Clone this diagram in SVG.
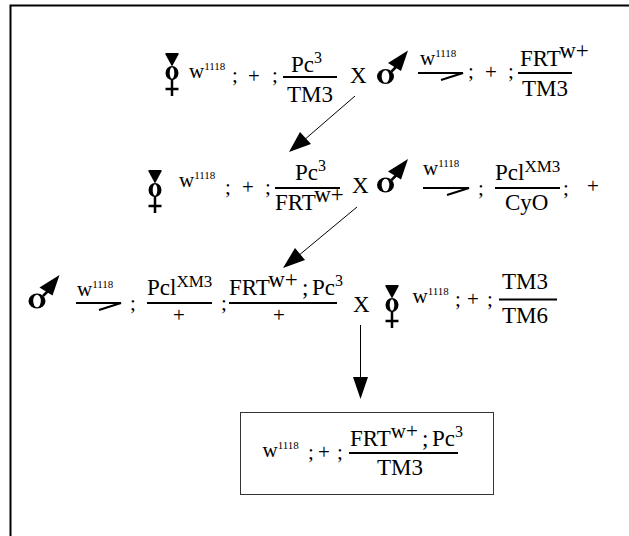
<svg xmlns="http://www.w3.org/2000/svg" width="629" height="536" viewBox="0 0 629 536">
<defs>
<style>
text{font-family:"Liberation Serif","Times New Roman",serif;fill:#000;font-size:21px}
.s{font-size:11px}
.l{font-size:23px}
.e{font-size:23px}
.x{font-size:17px}
.c{font-size:16px}
.q{font-size:21px}
.r{stroke:#000;stroke-width:2;fill:none}
.k{stroke:#000;stroke-width:2.500;fill:none}
.t{stroke:#000;stroke-width:1;fill:none}
.h{fill:#000}
.w{fill:#fff}
</style>
<g id="f"><path class="k" d="M0 26V43M-6.500 36H6.500"/><path class="h" d="M-6.500 0H6.500V1.500L0 13.500L-6.500 1.500Z"/><ellipse class="h" cx="0" cy="20" rx="6.500" ry="7"/><ellipse class="w" cx="0" cy="20" rx="2.300" ry="5.800"/></g>
<g id="m"><ellipse class="h" cx="0" cy="0" rx="8.500" ry="7.500"/><ellipse class="w" cx="0" cy="0" rx="3.800" ry="6.300"/><path class="k" d="M6-5L11-10"/><path class="h" d="M22.500-26L2.500-13.500L15.500-5.500Z"/></g>
</defs>
<path class="r" d="M10.500 536V5.500H629"/>
<g id="connectors">
<path class="t" d="M355 96L303 141"/><path class="h" d="M289 152L300 132L311 144Z"/>
<path class="t" d="M357 207L298 256"/><path class="h" d="M283 268L295 248L305 260Z"/>
<path class="t" d="M360.500 325V378"/><path class="h" d="M360.500 399L353 377H368Z"/>
</g>
<g id="row1">
<use href="#f" x="172" y="53"/>
<text x="189" y="78">w<tspan class="s" dy="-8">1118</tspan></text>
<text x="232" y="82">;</text><text x="248" y="83">+</text><text x="272" y="82">;</text>
<text class="l" x="291" y="72">Pc<tspan class="c" dy="-9">3</tspan></text><path class="r" d="M283 77H337"/><text class="l" x="287" y="102">TM3</text>
<text class="l" x="350" y="83">X</text>
<use href="#m" x="385.500" y="76.500"/>
<text x="420" y="65">w<tspan class="s" dy="-8">1118</tspan></text><path class="r" d="M418 73H463L441 80"/>
<text x="468" y="78">;</text><text x="485" y="79">+</text><text x="508" y="78">;</text>
<text class="l" x="520" y="66">FRT<tspan class="e" dy="-8">w+</tspan></text><path class="r" d="M518 73H572"/><text class="l" x="522" y="96">TM3</text>
</g>
<g id="row2">
<use href="#f" x="155" y="170"/>
<text x="179" y="187">w<tspan class="s" dy="-8">1118</tspan></text>
<text x="225" y="194">;</text><text x="242" y="194">+</text><text x="265" y="194">;</text>
<text class="l" x="295" y="180">Pc<tspan class="c" dy="-9">3</tspan></text><path class="r" d="M275 188H340"/><text class="l" x="275" y="210">FRT<tspan class="e" dy="-8">w+</tspan></text>
<text class="l" x="352" y="193">X</text>
<use href="#m" x="385.500" y="185"/>
<text x="423" y="175">w<tspan class="s" dy="-8">1118</tspan></text><path class="r" d="M423 188H469L447 195"/>
<text x="478" y="195">;</text>
<text class="l" x="495" y="180">Pcl<tspan class="x" dy="-8">XM3</tspan></text><path class="r" d="M495 188H560"/><text class="l" x="505" y="210">CyO</text>
<text x="563" y="195">;</text><text x="587" y="193">+</text>
</g>
<g id="row3">
<use href="#m" x="37" y="301"/>
<text x="77" y="296">w<tspan class="s" dy="-8">1118</tspan></text><path class="r" d="M76 303H121L99 310"/>
<text x="130" y="310">;</text>
<text class="l" x="147" y="295">Pcl<tspan class="x" dy="-8">XM3</tspan></text><path class="r" d="M147 303H212"/><text x="173" y="322">+</text>
<text x="221" y="310">;</text>
<text class="l" x="229" y="295">FRT<tspan class="e" dy="-8">w+</tspan><tspan x="302" dy="8">;</tspan><tspan x="312">Pc</tspan><tspan class="c" dy="-9">3</tspan></text><path class="r" d="M229 303H337"/><text x="273" y="322">+</text>
<text class="l" x="353" y="312">X</text>
<use href="#f" x="392" y="285"/>
<text x="412.500" y="303">w<tspan class="s" dy="-8">1118</tspan></text>
<text x="455" y="306">;</text><text x="467" y="306">+</text><text x="487" y="306">;</text>
<text class="l" x="502" y="289">TM3</text><path class="r" d="M499 299.500H557"/><text class="l" x="502" y="323">TM6</text>
</g>
<g id="result">
<rect x="240.500" y="412.500" width="253" height="82" stroke="#333" stroke-width="1" fill="none"/>
<text x="262.500" y="457">w<tspan class="s" dy="-8">1118</tspan></text>
<text x="308" y="459">;</text><text x="318" y="459">+</text><text x="337" y="459">;</text>
<text class="l" x="350" y="446">FRT<tspan class="q" dy="-8">w+</tspan><tspan x="422" dy="8">;</tspan><tspan x="432">Pc</tspan><tspan class="c" dy="-9">3</tspan></text><path class="r" d="M349 453H458"/><text class="l" x="377" y="475">TM3</text>
</g>
</svg>
